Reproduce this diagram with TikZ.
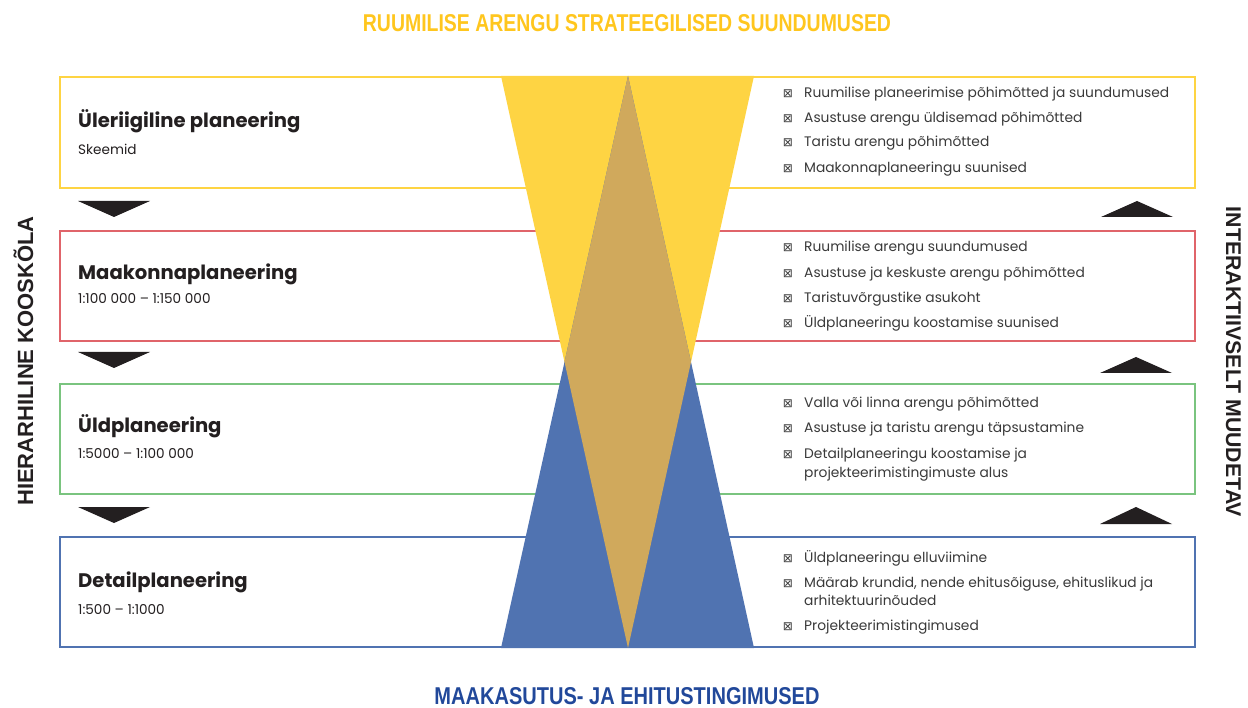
\documentclass[tikz,border=0pt]{standalone}
\usepackage{fontspec}
\setmainfont{Poppins}
\newfontfamily\dejavu{DejaVu Sans}
\newfontfamily\arialfont{Liberation Sans}
\definecolor{ylw}{HTML}{FED443}
\definecolor{ttlylw}{HTML}{FFC61E}
\definecolor{redb}{HTML}{E0646A}
\definecolor{grnb}{HTML}{7AC47F}
\definecolor{blub}{HTML}{5073B1}
\definecolor{tan}{HTML}{D0A95C}
\definecolor{ttlblu}{HTML}{21489A}
\definecolor{dark}{HTML}{231F20}
\definecolor{txt}{HTML}{3A3A3A}
\tikzset{
  boxline/.style={line width=2.8pt, fill=white},
  lvl/.style={font=\bfseries\fontsize{19.6}{22}\selectfont, text=dark, anchor=base west, inner sep=0pt},
  scl/.style={font=\fontsize{13.6}{15}\selectfont, text=dark, anchor=base west, inner sep=0pt},
  itm/.style={font=\fontsize{13.8}{16}\selectfont, text=txt, anchor=base west, inner sep=0pt},
  bul/.style={font=\dejavu\fontsize{12}{13}\selectfont, text=txt, anchor=base, inner sep=0pt},
  arr/.style={fill=dark, draw=none},
  side/.style={font=\arialfont\bfseries\fontsize{22}{24}\selectfont, text=dark, inner sep=0pt},
}
\newcommand\bitem[3]{\node[bul] at (788,#1) {⊠}; \node[itm] (#2) at (804,#1) {#3};}
\begin{document}
\begin{tikzpicture}[x=1pt,y=-1pt]
\useasboundingbox (0,0) rectangle (1248,708);
% boxes
\draw[boxline, draw=ylw] (60,77) rectangle (1195,188);
\draw[boxline, draw=redb] (60,231) rectangle (1195,341);
\draw[boxline, draw=grnb] (60,384) rectangle (1195,494);
\draw[boxline, draw=blub] (60,537) rectangle (1195,647);
% triangles
\fill[ylw] (501,76) -- (754,76) -- (628,648) -- cycle;
\fill[blub] (501,648) -- (754,648) -- (628,76) -- cycle;
\fill[tan] (628,76) -- (691,362) -- (628,648) -- (564.5,362) -- cycle;
% titles
\node[inner sep=0pt, text=ttlylw] (t1) at (627,23.5) {\resizebox{528pt}{17pt}{\arialfont\bfseries RUUMILISE ARENGU STRATEEGILISED SUUNDUMUSED}};
\node[inner sep=0pt, text=ttlblu] (t2) at (627,696) {\resizebox{385pt}{17pt}{\arialfont\bfseries MAAKASUTUS- JA EHITUSTINGIMUSED}};
\node[side, rotate=90] (s1) at (23.5,361) {HIERARHILINE KOOSKÕLA};
\node[side, rotate=-90, font=\arialfont\bfseries\fontsize{21.3}{24}\selectfont] (s2) at (1233.5,362) {INTERAKTIIVSELT MUUDETAV};
% left headings
\node[lvl] (h1) at (78,128) {Üleriigiline planeering};
\node[scl] (c1) at (78,155) {Skeemid};
\node[lvl] (h2) at (78,280) {Maakonnaplaneering};
\node[scl] (c2) at (78,304) {1:100 000 – 1:150 000};
\node[lvl] (h3) at (78,433) {Üldplaneering};
\node[scl] (c3) at (78,459) {1:5000 – 1:100 000};
\node[lvl] (h4) at (78,587) {Detailplaneering};
\node[scl] (c4) at (78,614) {1:500 – 1:1000};
% arrows
\fill[arr] (78,201) -- (150,201) -- (114,217) -- cycle;
\fill[arr] (78,352) -- (150,352) -- (114,368) -- cycle;
\fill[arr] (78,507) -- (150,507) -- (114,523) -- cycle;
\fill[arr] (1101,217) -- (1173,217) -- (1137,201) -- cycle;
\fill[arr] (1100,373) -- (1172,373) -- (1136,357) -- cycle;
\fill[arr] (1100,524) -- (1172,524) -- (1136,507) -- cycle;
% lists
\bitem{98}{a1}{Ruumilise planeerimise põhimõtted ja suundumused}
\bitem{123}{a2}{Asustuse arengu üldisemad põhimõtted}
\bitem{147}{a3}{Taristu arengu põhimõtted}
\bitem{173}{a4}{Maakonnaplaneeringu suunised}
\bitem{252}{b1}{Ruumilise arengu suundumused}
\bitem{278}{b2}{Asustuse ja keskuste arengu põhimõtted}
\bitem{303}{b3}{Taristuvõrgustike asukoht}
\bitem{328}{b4}{Üldplaneeringu koostamise suunised}
\bitem{408}{d1}{Valla või linna arengu põhimõtted}
\bitem{433}{d2}{Asustuse ja taristu arengu täpsustamine}
\bitem{458}{d3}{Detailplaneeringu koostamise ja}
\node[itm] (d3b) at (804,477) {projekteerimistingimuste alus};
\bitem{562}{e1}{Üldplaneeringu elluviimine}
\bitem{587}{e2}{Määrab krundid, nende ehitusõiguse, ehituslikud ja}
\node[itm] (e2b) at (804,605) {arhitektuurinõuded};
\bitem{630}{e3}{Projekteerimistingimused}
\end{tikzpicture}
\end{document}
